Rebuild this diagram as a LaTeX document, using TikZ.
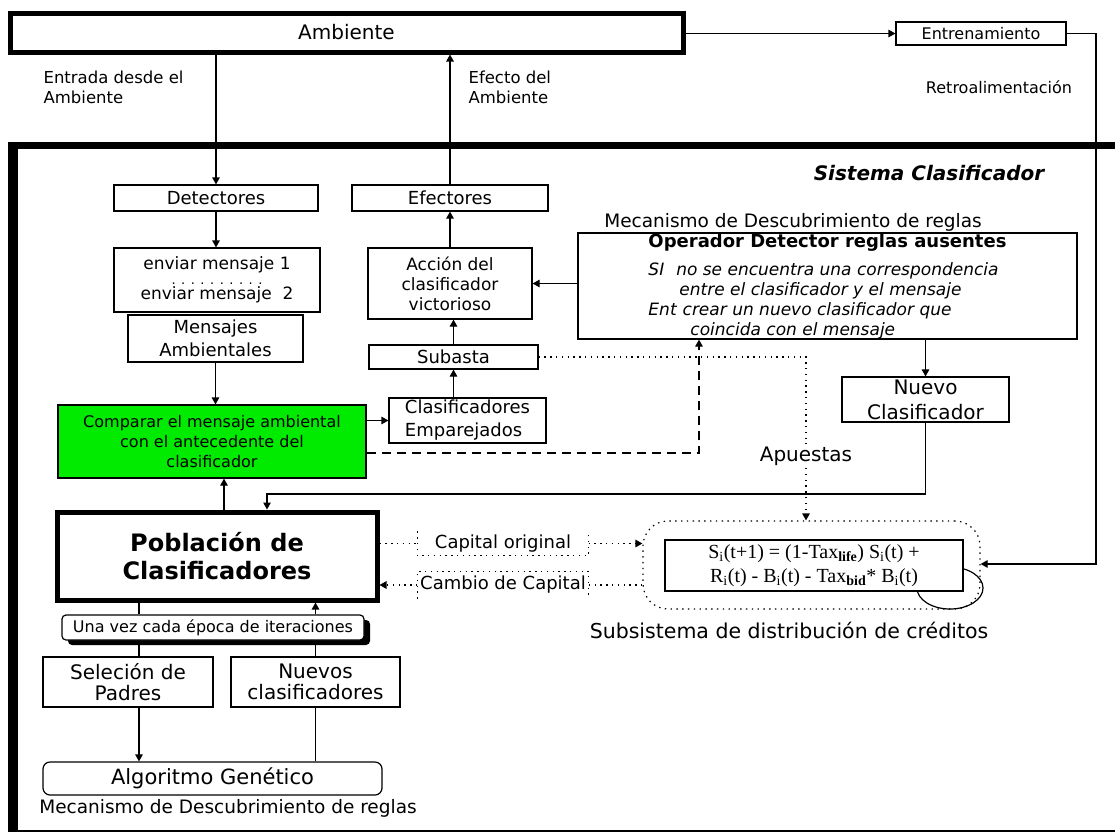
\documentclass[tikz,border=0pt]{standalone}
\usepackage{fontspec}
\setmainfont{DejaVu Sans}
\newfontfamily\formulafont{Liberation Serif}
\usepackage{xcolor}
\usepackage{tikz}
\usetikzlibrary{arrows.meta,positioning,shadows}
\definecolor{verde}{RGB}{0,235,0}

\begin{document}
\begin{tikzpicture}[
    x=1pt, y=-1pt,
    line width=1.2pt,
    >={Triangle[length=7pt,width=7.5pt]},
    caja/.style={draw, fill=white, inner sep=0pt, align=center, font=\fontsize{18}{22}\selectfont},
    etiqueta/.style={inner sep=0pt, align=left, font=\fontsize{16.5}{20}\selectfont},
    punteado/.style={dash pattern=on 1.4pt off 4.4pt},
    rayado/.style={dash pattern=on 9pt off 6pt}
]
    \useasboundingbox (0,0) rectangle (1115,833);

    % Marco del sistema clasificador
    \draw[line width=7pt] (1115,145.5) -- (8,145.5);
    \draw[line width=10pt] (13,142) -- (13,832);
    \draw[line width=2pt] (8,831) -- (1115,831);

    % Ambiente
    \node[caja, line width=5pt, minimum width=673pt, minimum height=39pt, font=\fontsize{20}{24}\selectfont] (amb) at (346.5,32.5) {Ambiente};
    \node[caja, minimum width=170pt, minimum height=23pt, font=\fontsize{16}{20}\selectfont] (entr) at (981,33.5) {Entrenamiento};
    \node[etiqueta, anchor=west] (entrada) at (43,87) {Entrada desde el\\Ambiente};
    \node[etiqueta, anchor=west] (efecto) at (468,87) {Efecto del\\Ambiente};
    \node[etiqueta, font=\fontsize{16}{20}\selectfont] (retro) at (999,87) {Retroalimentación};
    \node[inner sep=0pt, font=\bfseries\itshape\fontsize{20}{24}\selectfont] (sist) at (929,173) {Sistema Clasificador};

    % Mensajes
    \node[caja, minimum width=204pt, minimum height=26pt] (det) at (216,198) {Detectores};
    \node[caja, minimum width=196pt, minimum height=26pt] (efe) at (450,198) {Efectores};
    \node[caja, minimum width=206pt, minimum height=64pt, font=\fontsize{17}{20}\selectfont] (env) at (217,280)
        {enviar mensaje 1\\[-5pt]{\fontsize{13}{20}\selectfont . . . . . . . . . .}\\[-5pt]enviar mensaje\ \ 2};
    \node[caja, minimum width=175pt, minimum height=47pt, font=\fontsize{18}{23}\selectfont] (men) at (215.5,338.5) {Mensajes\\Ambientales};
    \node[caja, fill=verde, minimum width=308pt, minimum height=73pt, font=\fontsize{16}{20}\selectfont] (cmp) at (212,441.5)
        {Comparar el mensaje ambiental\\con el antecedente del\\clasificador};
    \node[caja, align=left, minimum width=157pt, minimum height=45pt, font=\fontsize{18}{23}\selectfont] (clas) at (467.5,420.5) {Clasificadores\\Emparejados};
    \node[caja, minimum width=169pt, minimum height=24pt] (sub) at (453.5,357) {Subasta};
    \node[caja, minimum width=164pt, minimum height=71pt, font=\fontsize{17}{20}\selectfont] (acc) at (450,283.5) {Acción del\\clasificador\\victorioso};

    % Descubrimiento de reglas
    \node[inner sep=0pt, font=\fontsize{18.5}{22}\selectfont] (mdr) at (793,222) {Mecanismo de Descubrimiento de reglas};
    \node[caja, align=left, minimum width=499pt, minimum height=106pt, font=\fontsize{17}{20}\selectfont] (oper) at (827.5,286)
        {{\bfseries\fontsize{18}{22}\selectfont Operador Detector reglas ausentes}\\[8pt]
         {\itshape SI\hspace{12pt}no se encuentra una correspondencia}\\
         \hspace*{31pt}{\itshape entre el clasificador y el mensaje}\\
         {\itshape Ent\hspace{6pt}crear un nuevo clasificador que}\\
         \hspace*{42pt}{\itshape coincida con el mensaje}};
    \node[caja, minimum width=167pt, minimum height=45pt, font=\fontsize{20}{25}\selectfont] (nuevo) at (925.5,399.5) {Nuevo\\Clasificador};

    % Poblacion
    \node[caja, line width=5pt, minimum width=320pt, minimum height=88pt, font=\bfseries\fontsize{24}{28}\selectfont] (pob) at (217,556) {Población de\\Clasificadores};

    % Distribucion de creditos
    \node[caja, draw=none, fill=none, minimum width=170pt, minimum height=23pt] (cap) at (503,543.5) {Capital original};
    \node[caja, draw=none, fill=none, minimum width=170pt, minimum height=26pt] (cam) at (503,585) {Cambio de Capital};
    \node[draw, punteado, rounded corners=25pt, minimum width=337pt, minimum height=88pt] (cred) at (811.5,565) {};
    \draw (950,588) ellipse [x radius=33pt, y radius=21pt];
    \node[caja, minimum width=298pt, minimum height=51pt, font=\formulafont\fontsize{20}{24}\selectfont] (form) at (814,565.5)
        {S\textsubscript{i}(t+1) = (1-Tax\textsubscript{\textbf{life}}) S\textsubscript{i}(t) +\\
         R\textsubscript{i}(t) - B\textsubscript{i}(t) - Tax\textsubscript{\textbf{bid}}* B\textsubscript{i}(t)};
    \node[inner sep=2pt, font=\fontsize{20}{24}\selectfont] (apu) at (806,456) {Apuestas};
    \node[inner sep=0pt, font=\fontsize{20.5}{24}\selectfont] (subsis) at (789,630) {Subsistema de distribución de créditos};

    % Algoritmo genetico
    \node[caja, rounded corners=4pt, minimum width=302pt, minimum height=25pt, font=\fontsize{16}{20}\selectfont,
          drop shadow={shadow xshift=6pt, shadow yshift=-5pt, fill=black, opacity=1}] (vez) at (213,627.5) {Una vez cada época de iteraciones};
    \node[caja, minimum width=170pt, minimum height=50pt, font=\fontsize{20}{21}\selectfont] (sel) at (128,682) {Seleción de\\Padres};
    \node[caja, minimum width=169pt, minimum height=50pt, font=\fontsize{20}{21}\selectfont] (nue) at (315.5,682) {Nuevos\\clasificadores};
    \node[caja, rounded corners=7pt, minimum width=339pt, minimum height=33pt, font=\fontsize{21}{24}\selectfont] (alg) at (212.5,778.5) {Algoritmo Genético};
    \node[inner sep=0pt, font=\fontsize{18.5}{22}\selectfont] (mdr2) at (228,808) {Mecanismo de Descubrimiento de reglas};

    % Conexiones con el ambiente
    \draw[->] (det.north |- amb.south) -- (det.north);
    \draw[->] (efe.north) -- (efe.north |- amb.south);
    \draw[->] (amb.east |- entr.west) -- (entr.west);
    \coordinate (fb) at (1096,564);
    \draw[->] (entr.east) -| (fb) -- (fb -| cred.east);

    % Flujo de mensajes
    \draw[->] (det.south) -- (det.south |- env.north);
    \draw[->] (men.south) -- (men.south |- cmp.north);
    \draw[->] (cmp.east |- clas.west) -- (clas.west);
    \draw[->] (sub.south |- clas.north) -- (sub.south);
    \draw[->] (sub.north) -- (sub.north |- acc.south);
    \draw[->] (acc.north) -- (acc.north |- efe.south);
    \draw[->] (oper.west |- acc.east) -- (acc.east);
    \draw[->] (nuevo.north |- oper.south) -- (nuevo.north);
    \coordinate (ret) at (267,494);
    \draw[->] (nuevo.south) |- (ret) -- (ret |- pob.north);
    \draw[->] ([xshift=7pt]pob.north) -- ([xshift=7pt]pob.north |- cmp.south);
    \draw[->, rayado] ([yshift=-11.5pt]cmp.east) -| ([xshift=-128.5pt]oper.south);

    % Apuestas y capital
    \draw[punteado] (sub.east) -| (apu.north);
    \draw[->, punteado] (apu.south) -- (apu.south |- cred.north);
    \draw[punteado] (pob.east |- cap.west) -- (cap.west);
    \draw[->, punteado] (cap.east) -- (cap.east -| cred.west);
    \draw[punteado] (cap.north west) -- (cap.south west) -- (cap.south east) -- (cap.north east);
    \draw[punteado] (cam.south west) -- (cam.north west) -- (cam.north east) -- (cam.south east);
    \draw[punteado] (cred.west |- cam.east) -- (cam.east);
    \draw[->, punteado] (cam.west) -- (cam.west -| pob.east);

    % Ciclo del algoritmo genetico
    \coordinate (eje) at ([xshift=11pt]sel.north);
    \draw (eje |- pob.south) -- (eje |- vez.north);
    \draw (eje |- vez.south) -- (eje);
    \draw[->] (eje |- sel.south) -- (eje |- alg.north);
    \draw (nue.south |- alg.north) -- (nue.south);
    \draw (nue.north) -- (nue.north |- vez.south);
    \draw[->] (nue.north |- vez.north) -- (nue.north |- pob.south);
\end{tikzpicture}
\end{document}
